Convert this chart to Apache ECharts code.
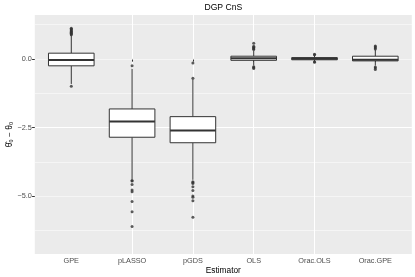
<!DOCTYPE html>
<html>
<head>
<meta charset="utf-8">
<script src="https://cdn.jsdelivr.net/npm/echarts@6/dist/echarts.min.js"></script>
<style>
html,body{margin:0;padding:0;background:#fff;}
#chart{width:415px;height:277px;}
</style>
</head>
<body>
<div id="chart"></div>
<script>
const chartTitle = 'DGP CnS';
const xTitle = 'Estimator';
const yTitle = 'θ̂₀ − θ₀';
const categories = ['GPE', 'pLASSO', 'pGDS', 'OLS', 'Orac.OLS', 'Orac.GPE'];
const whiskerLow  = [-0.91, -4.38, -4.40, -0.24, -0.08, -0.24];
const q1          = [-0.25, -2.85, -3.05, -0.05, -0.03, -0.07];
const median      = [-0.04, -2.28, -2.60,  0.03,  0.01, -0.03];
const q3          = [ 0.21, -1.82, -2.10,  0.10,  0.05,  0.10];
const whiskerHigh = [ 0.86, -0.36, -0.74,  0.30,  0.13,  0.33];
const outliers = [
  [0.88, 0.91, 0.94, 0.97, 1.00, 1.03, 1.06, 1.09, 1.12, -0.99],
  [-0.25, -4.42, -4.44, -4.57, -4.77, -4.83, -5.19, -5.56, -6.10],
  [-0.15, -0.70, -4.47, -4.50, -4.53, -4.65, -4.79, -4.99, -5.03, -5.16, -5.76],
  [0.34, 0.37, 0.40, 0.43, 0.46, 0.57, -0.28, -0.31, -0.35],
  [0.15, 0.17, -0.10, -0.12],
  [0.36, 0.40, 0.44, 0.47, -0.29, -0.33, -0.38]
];
const yTickLabels = [-5.0, -2.5, 0.0];
const yRange = [-7.1, 1.6];

const xPos = categories.map((c, i) => i + 1);
const boxData = categories.map((c, i) => [xPos[i], whiskerLow[i], q1[i], median[i], q3[i], whiskerHigh[i]]);
const outlierData = [];
outliers.forEach((arr, i) => arr.forEach(v => outlierData.push([xPos[i], v])));

const FONT = 'Liberation Sans';
const chart = echarts.init(document.getElementById('chart'), null, {renderer: 'canvas'});

function fmtY(v) {
  const s = Math.abs(v).toFixed(1);
  return v < 0 ? '\u2212' + s : s;
}

const option = {
  animation: false,
  backgroundColor: '#fff',
  title: {
    text: chartTitle,
    left: 223.3, top: 3, padding: 0,
    textAlign: 'center',
    textStyle: {fontFamily: FONT, fontSize: 8.6, fontWeight: 'normal', color: '#000'}
  },
  grid: {
    left: 34.8, right: 3.2, top: 15, bottom: 23,
    show: true, backgroundColor: '#EBEBEB', borderWidth: 0,
    containLabel: false, outerBoundsMode: 'none'
  },
  xAxis: {
    type: 'value', min: 0.4, max: 6.6, minInterval: 1, maxInterval: 1,
    name: xTitle, nameLocation: 'middle', nameGap: 13, nameMoveOverlap: false,
    nameTextStyle: {fontFamily: FONT, fontSize: 8.3, color: '#000'},
    axisLine: {show: false},
    axisTick: {show: true, length: 2.7, lineStyle: {color: '#333', width: 1}, customValues: xPos},
    axisLabel: {
      customValues: xPos,
      formatter: v => categories[Math.round(v) - 1] || '',
      fontFamily: FONT, fontSize: 7.3, color: '#4D4D4D', margin: 3
    },
    splitLine: {show: true, showMinLine: false, showMaxLine: false, lineStyle: {color: '#fff', width: 1.07}}
  },
  yAxis: [
    {
      type: 'value', min: yRange[0], max: yRange[1], minInterval: 2.5, maxInterval: 2.5,
      name: yTitle, nameLocation: 'middle', nameGap: 21, nameRotate: 90, nameMoveOverlap: false,
      nameTextStyle: {fontFamily: FONT, fontSize: 8.3, color: '#000'},
      axisLine: {show: false},
      axisTick: {show: true, length: 2.7, lineStyle: {color: '#333', width: 1}, customValues: yTickLabels},
      axisLabel: {
        customValues: yTickLabels,
        formatter: fmtY, fontFamily: FONT, fontSize: 7.3, color: '#4D4D4D', margin: 3
      },
      splitLine: {show: true, showMinLine: false, showMaxLine: false, lineStyle: {color: '#fff', width: 1.07}},
      z: 3
    },
    {
      type: 'value', min: yRange[0], max: yRange[1], minInterval: 1.25, maxInterval: 1.25,
      axisLine: {show: false}, axisTick: {show: false}, axisLabel: {show: false},
      splitLine: {show: true, showMinLine: false, showMaxLine: false, lineStyle: {color: '#fff', width: 0.53}},
      z: 2
    }
  ],
  series: [
    {
      type: 'custom',
      data: boxData,
      encode: {x: 0, y: [1, 2, 3, 4, 5]},
      z: 5,
      renderItem: function (params, api) {
        const x = api.value(0);
        const pLow = api.coord([x, api.value(1)]);
        const pQ1 = api.coord([x, api.value(2)]);
        const pMed = api.coord([x, api.value(3)]);
        const pQ3 = api.coord([x, api.value(4)]);
        const pHigh = api.coord([x, api.value(5)]);
        const w = api.size([0.75, 0])[0];
        const stroke = '#333';
        return {
          type: 'group',
          children: [
            {type: 'line', shape: {x1: pHigh[0], y1: pHigh[1], x2: pQ3[0], y2: pQ3[1]}, style: {stroke: stroke, lineWidth: 1}},
            {type: 'line', shape: {x1: pQ1[0], y1: pQ1[1], x2: pLow[0], y2: pLow[1]}, style: {stroke: stroke, lineWidth: 1}},
            {type: 'rect', shape: {x: pQ3[0] - w / 2, y: pQ3[1], width: w, height: pQ1[1] - pQ3[1]}, style: {fill: '#fff', stroke: stroke, lineWidth: 1}},
            {type: 'line', shape: {x1: pMed[0] - w / 2, y1: pMed[1], x2: pMed[0] + w / 2, y2: pMed[1]}, style: {stroke: stroke, lineWidth: 2}}
          ]
        };
      }
    },
    {
      type: 'scatter',
      data: outlierData,
      symbol: 'circle',
      symbolSize: 3,
      itemStyle: {color: '#333'},
      z: 6
    }
  ]
};
chart.setOption(option);
</script>
</body>
</html>
